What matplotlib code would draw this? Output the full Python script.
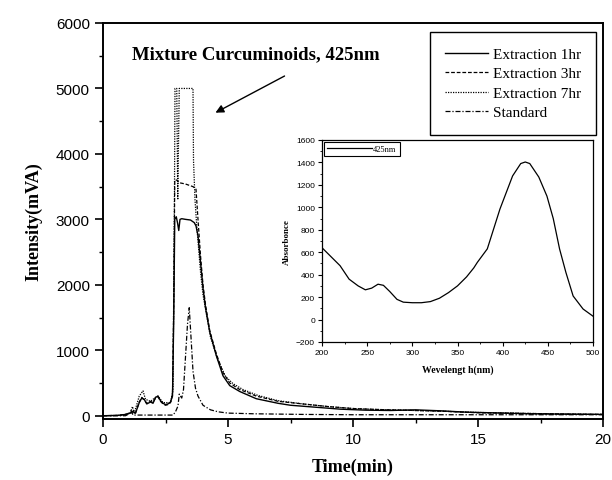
import matplotlib.pyplot as plt
from matplotlib.ticker import MultipleLocator

# chromatogram traces (time in min, intensity in mVA)
t_1hr = [0, 0.6, 0.9, 1.1, 1.2, 1.3, 1.45, 1.55, 1.65, 1.75, 1.9, 2.0, 2.1, 2.2, 2.3,
         2.4, 2.5, 2.6, 2.7, 2.78, 2.83, 2.87, 2.93, 2.98, 3.03, 3.08, 3.15, 3.3, 3.5,
         3.65, 3.72, 3.8, 3.9, 4.0, 4.1, 4.27, 4.53, 4.8, 5.07, 5.47, 6.13, 7.0, 7.5,
         8.5, 9.5, 10.5, 11.5, 12.5, 13.5, 14.5, 15.5, 17, 18.5, 20]
v_1hr = [0, 5, 20, 40, 60, 40, 200, 270, 250, 180, 210, 190, 280, 300, 230,
         190, 170, 180, 210, 300, 1500, 3000, 3040, 2950, 2830, 3000, 3010, 3000, 2990,
         2950, 2900, 2750, 2350, 1950, 1650, 1280, 920, 610, 460, 370, 260, 190, 160,
         130, 100, 85, 80, 90, 75, 55, 45, 30, 25, 20]

t_3hr = [0, 0.6, 0.9, 1.1, 1.2, 1.3, 1.45, 1.55, 1.65, 1.75, 1.9, 2.0, 2.1, 2.2, 2.3,
         2.4, 2.5, 2.6, 2.7, 2.78, 2.83, 2.87, 2.95, 3.05, 3.3, 3.6, 3.72, 3.8, 3.9,
         4.0, 4.1, 4.27, 4.53, 4.8, 5.07, 5.47, 6.13, 7.0, 8.0, 9.0, 10.0, 11.0, 12.5,
         13.5, 15.0, 17.0, 18.5, 20]
v_3hr = [0, 5, 20, 40, 70, 40, 210, 280, 240, 190, 220, 200, 270, 290, 220,
         180, 160, 170, 200, 320, 1700, 3600, 3600, 3560, 3540, 3500, 3460, 3000, 2450,
         2000, 1700, 1300, 950, 660, 500, 400, 300, 220, 180, 140, 110, 95, 80,
         70, 45, 35, 25, 20]

t_7hr = [0, 0.6, 0.9, 1.1, 1.18, 1.25, 1.45, 1.6, 1.7, 1.9, 2.1, 2.2, 2.4, 2.7,
         2.8, 2.86, 2.88, 2.95, 2.99, 3.05, 3.3, 3.6, 3.62, 3.68, 3.75, 3.9, 4.0, 4.3,
         4.6, 4.9, 5.2, 5.6, 6.2, 7.0, 8.0, 9.0, 10.0, 11.0, 12.5, 13.5, 15.0, 17.0,
         18.5, 20]
v_7hr = [0, 5, 20, 50, 140, 40, 300, 380, 250, 220, 280, 300, 200, 200,
         400, 3500, 5000, 5000, 3300, 5000, 5000, 5000, 3900, 3300, 2900, 2200, 1850, 1200,
         850, 600, 490, 400, 310, 230, 180, 140, 110, 95, 80, 70, 50, 35, 25, 20]

t_std = [0, 0.9, 1.05, 1.12, 1.2, 2.8, 2.9, 3.0, 3.05, 3.1, 3.15, 3.22, 3.3, 3.38,
         3.45, 3.52, 3.6, 3.7, 3.8, 4.0, 4.3, 4.6, 5.0, 6.0, 8.0, 10.0, 15.0, 20.0]
v_std = [0, 0, 30, 80, 10, 10, 60, 150, 330, 300, 270, 400, 900, 1400,
         1650, 1200, 680, 420, 300, 160, 90, 60, 40, 30, 20, 15, 15, 15]

# UV spectrum for the inset
wl = [200, 210, 220, 230, 240, 248, 255, 262, 268, 275, 283, 290, 300, 310, 320,
      330, 340, 350, 360, 368, 372, 383, 397, 411, 420, 425, 430, 440, 449, 456,
      463, 470, 478, 489, 500]
absorb = [640, 560, 480, 360, 300, 265, 280, 315, 305, 250, 180, 155, 150, 150, 160,
          190, 240, 300, 380, 460, 510, 630, 985, 1280, 1390, 1404, 1390, 1270, 1100, 900,
          629, 420, 210, 94, 30]

serif = 'Liberation Serif'
sans = 'Liberation Sans'

fig = plt.figure(figsize=(6.12, 4.81), dpi=100)
ax = fig.add_axes([103/612, 1-420/481, 500/612, 396/481])

ax.plot(t_1hr, v_1hr, color='k', lw=1.0, ls='-', label='Extraction 1hr')
ax.plot(t_3hr, v_3hr, color='k', lw=0.9, ls=(0, (3, 1.5)), label='Extraction 3hr')
ax.plot(t_7hr, v_7hr, color='k', lw=0.9, ls=(0, (1, 1)), label='Extraction 7hr')
ax.plot(t_std, v_std, color='k', lw=0.9, ls=(0, (4, 1.5, 1, 1.5)), label='Standard')

ax.set_xlim(0, 20)
ax.set_ylim(-50, 6000)
ax.xaxis.set_major_locator(MultipleLocator(5))
ax.xaxis.set_minor_locator(MultipleLocator(2.5))
ax.yaxis.set_major_locator(MultipleLocator(1000))
ax.yaxis.set_minor_locator(MultipleLocator(500))
ax.tick_params(which='major', direction='out', length=6, width=1.2, labelsize=11)
ax.tick_params(which='minor', direction='out', length=3, width=1.0)
for lab in ax.get_xticklabels() + ax.get_yticklabels():
    lab.set_fontfamily(sans)
for s in ax.spines.values():
    s.set_linewidth(1.4)

ax.set_xlabel('Time(min)', fontfamily=serif, fontweight='bold', fontsize=13, labelpad=8)
ax.set_ylabel('Intensity(mVA)', fontfamily=serif, fontweight='bold', fontsize=13, labelpad=10)

ax.text(1.16, 5530, 'Mixture Curcuminoids, 425nm', fontfamily=serif, fontweight='bold',
        fontsize=13.5, va='center', ha='left')
ax.annotate('', xy=(4.4, 4610), xytext=(7.36, 5210),
            arrowprops=dict(arrowstyle='-|>', color='k', lw=1.0, mutation_scale=12))

leg = ax.legend(loc='upper right', bbox_to_anchor=(596/612, 1-33/481),
                bbox_transform=fig.transFigure, borderaxespad=0, fancybox=False,
                edgecolor='k', prop={'family': serif, 'size': 11}, handlelength=2.8,
                handletextpad=0.3, labelspacing=0.38, borderpad=1.0, framealpha=1)
leg.get_frame().set_linewidth(1.0)

# inset spectrum
ins = fig.add_axes([322/612, 1-343/481, 271/612, 202/481])
ins.plot(wl, absorb, color='k', lw=0.9, label='425nm')
ins.set_xlim(200, 500)
ins.set_ylim(-200, 1600)
ins.xaxis.set_major_locator(MultipleLocator(50))
ins.xaxis.set_minor_locator(MultipleLocator(25))
ins.yaxis.set_major_locator(MultipleLocator(200))
ins.yaxis.set_minor_locator(MultipleLocator(100))
ins.tick_params(which='major', direction='out', length=3, width=0.8, labelsize=6, pad=2)
ins.tick_params(which='minor', direction='out', length=1.5, width=0.6)
for lab in ins.get_xticklabels() + ins.get_yticklabels():
    lab.set_fontfamily(sans)
for s in ins.spines.values():
    s.set_linewidth(0.9)
ins.set_xlabel('Wevelengt h(nm)', fontfamily=serif, fontweight='bold', fontsize=7, labelpad=6)
ins.set_ylabel('Absorbonce', fontfamily=serif, fontweight='bold', fontsize=6.5, labelpad=4)
ileg = ins.legend(loc='upper left', borderaxespad=0.2, fancybox=False, edgecolor='k',
                  prop={'family': serif, 'size': 6}, handlelength=5.5, handletextpad=0.1,
                  borderpad=0.35, framealpha=1)
ileg.get_frame().set_linewidth(0.8)

fig.savefig('out.png', dpi=100)
